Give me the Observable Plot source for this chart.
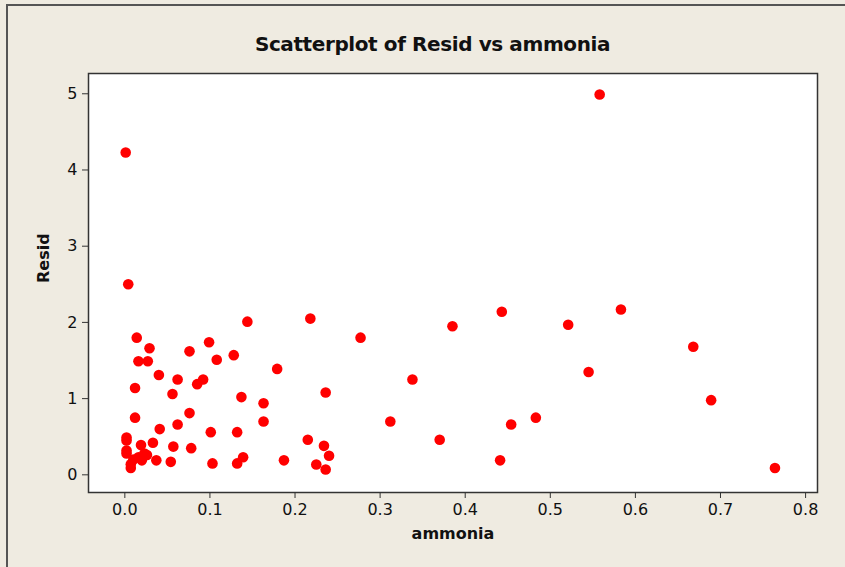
<!DOCTYPE html>
<html>
<head>
<meta charset="utf-8">
<script src="https://cdn.jsdelivr.net/npm/d3@7"></script>
<script src="https://cdn.jsdelivr.net/npm/@observablehq/plot@0.6"></script>
<style>
  html, body { margin: 0; padding: 0; background: #EFEBE1; }
  #wrap { position: relative; width: 845px; height: 567px; overflow: hidden; background: #EFEBE1; }
  #border { position: absolute; left: 6px; top: 4px; right: -4px; bottom: -4px; border-left: 2px solid #555; border-top: 2px solid #555; }
  #title { position: absolute; left: 0; width: 865px; top: 32px; text-align: center;
           font-family: "DejaVu Sans", sans-serif; font-weight: bold; font-size: 20px; color: #111; letter-spacing: -0.4px; }
  #chart { position: absolute; left: 0; top: 0; }
  #chart svg { background: transparent !important; }
</style>
</head>
<body>
<div id="wrap">
  <div id="border"></div>
  <div id="chart"></div>
  <div id="title">Scatterplot of Resid vs ammonia</div>
</div>
<script>
const ammonia = [0.558, 0.001, 0.004, 0.144, 0.218, 0.443, 0.583, 0.521, 0.385, 0.014,
  0.277, 0.099, 0.668, 0.029, 0.076, 0.128, 0.108, 0.016, 0.027, 0.179,
  0.545, 0.040, 0.062, 0.092, 0.338, 0.085, 0.012, 0.236, 0.056, 0.137,
  0.689, 0.163, 0.076, 0.012, 0.483, 0.163, 0.312, 0.062, 0.454, 0.041,
  0.101, 0.132, 0.002, 0.002, 0.215, 0.370, 0.033, 0.019, 0.234, 0.057,
  0.078, 0.002, 0.002, 0.023, 0.240, 0.016, 0.139, 0.037, 0.020, 0.187,
  0.441, 0.054, 0.103, 0.132, 0.225, 0.007, 0.007, 0.236, 0.764, 0.010, 0.026];
const resid = [4.99, 4.23, 2.50, 2.01, 2.05, 2.14, 2.17, 1.97, 1.95, 1.80,
  1.80, 1.74, 1.68, 1.66, 1.62, 1.57, 1.51, 1.49, 1.49, 1.39,
  1.35, 1.31, 1.25, 1.25, 1.25, 1.19, 1.14, 1.08, 1.06, 1.02,
  0.98, 0.94, 0.81, 0.75, 0.75, 0.70, 0.70, 0.66, 0.66, 0.60,
  0.56, 0.56, 0.49, 0.45, 0.46, 0.46, 0.42, 0.39, 0.38, 0.37,
  0.35, 0.32, 0.28, 0.28, 0.25, 0.23, 0.23, 0.19, 0.19, 0.19,
  0.19, 0.17, 0.15, 0.15, 0.135, 0.14, 0.09, 0.07, 0.09, 0.20, 0.26];
const xTicks = [0, 0.1, 0.2, 0.3, 0.4, 0.5, 0.6, 0.7, 0.8];
const yTicks = [0, 1, 2, 3, 4, 5];
const xLabel = "ammonia";
const yLabel = "Resid";

const data = ammonia.map((a, i) => ({ammonia: a, resid: resid[i]}));

const font = "'DejaVu Sans', sans-serif";
const chart = Plot.plot({
  width: 845,
  height: 567,
  marginLeft: 88,
  marginRight: 28,
  marginTop: 73,
  marginBottom: 75,
  style: { background: "transparent", fontFamily: font, fontSize: "16px", color: "#111" },
  x: { domain: [-0.0427, 0.814] },
  y: { domain: [-0.232, 5.266] },
  marks: [
    Plot.frame({ fill: "white", stroke: null }),
    Plot.dot(data, { x: "ammonia", y: "resid", r: 5.3, fill: "#FF0000", stroke: null }),
    Plot.frame({ stroke: "#333", strokeWidth: 1.5 }),
    Plot.axisX({ ticks: xTicks, tickFormat: d3.format(".1f"), tickSize: 6, tickPadding: 5,
                 fontSize: 16, label: null, stroke: "#333" }),
    Plot.axisY({ ticks: yTicks, tickFormat: d3.format("d"), tickSize: 6, tickPadding: 5,
                 fontSize: 16, label: null, stroke: "#333" }),
    Plot.text([xLabel], { frameAnchor: "bottom", text: d => d, dy: 46, fontSize: 16,
                 fontWeight: "bold", fill: "#111", letterSpacing: "-0.3px" }),
    Plot.text([yLabel], { frameAnchor: "left", text: d => d, dx: -45, rotate: -90, fontSize: 16,
                 fontWeight: "bold", fill: "#111" })
  ]
});
document.getElementById("chart").appendChild(chart);
</script>
</body>
</html>
